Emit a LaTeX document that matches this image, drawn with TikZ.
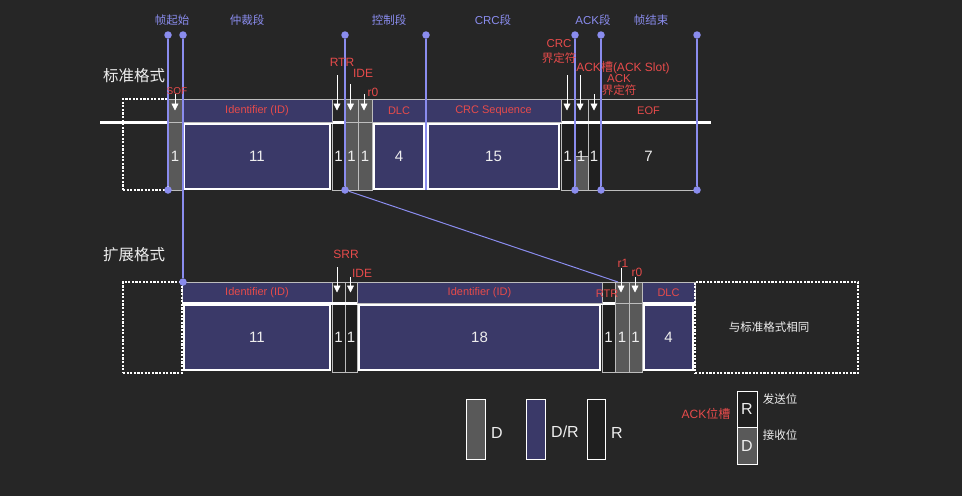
\documentclass[tikz,border=0pt]{standalone}
\usepackage{fontspec}
\setmainfont{Liberation Sans}
\newfontfamily\cjk{Noto Sans CJK SC}
\usetikzlibrary{arrows.meta}

\definecolor{bgdark}{HTML}{262626}
\definecolor{cellR}{HTML}{1F1F1F}
\definecolor{cellD}{HTML}{595959}
\definecolor{cellDR}{HTML}{3A3968}
\definecolor{rim}{HTML}{BDBDBD}
\definecolor{lav}{HTML}{8A8CEE}
\definecolor{labred}{HTML}{E64B4B}
\definecolor{txt}{HTML}{EEEEEE}

\begin{document}
\begin{tikzpicture}[
    x=1pt, y=-1pt,
    >={Triangle[width=7pt,length=7pt]},
    cell/.style={draw=rim, line width=0.7pt, anchor=north west, inner sep=0pt, outer sep=0pt},
    hdr/.style={cell, minimum height=23, text=labred, font=\fontsize{11}{13}\selectfont},
    bdy/.style={cell, minimum height=68, text=txt, font=\fontsize{15}{17}\selectfont},
    bluebody/.style={bdy, fill=cellDR, draw=white, line width=2.5pt, minimum height=65},
    dashbox/.style={draw=white, line width=2.2pt, dash pattern=on 2.2pt off 1.4pt, anchor=north west, inner sep=0pt, outer sep=0pt},
    bus/.style={draw=white, line width=3pt},
    dot/.style={circle, fill=lav, inner sep=0pt, minimum size=7.5pt},
    guide/.style={draw=lav, line width=1.3pt},
    seg/.style={text=lav, inner sep=0pt, font=\fontsize{11.5}{13}\selectfont\cjk},
    lab/.style={text=labred, inner sep=0pt, align=center, font=\fontsize{12}{14}\selectfont},
    ptr/.style={->, draw=white, line width=0.8pt},
    fmt/.style={text=txt, inner sep=0pt, font=\fontsize{15.5}{17}\selectfont\cjk},
    note/.style={text=txt, inner sep=0pt, font=\fontsize{11.5}{13}\selectfont\cjk},
    key/.style={text=txt, inner sep=0pt, font=\fontsize{16}{18}\selectfont}
  ]
    \fill[bgdark] (0,0) rectangle (962,496);
    \useasboundingbox (0,0) rectangle (962,496);

    % standard frame
    \node[hdr, minimum width=13] (srtrh) at (332,99) {};
    \node[bdy, fill=cellR, minimum width=13] (srtrb) at (332,122) {1};
    \node[hdr, minimum width=13] (scdh) at (561,99) {};
    \node[bdy, fill=cellR, minimum width=13] (scdb) at (561,122) {1};
    \node[hdr, minimum width=14] (sackh) at (574,99) {};
    \node[bdy, fill=cellR, minimum width=14, minimum height=34] (sackr) at (574,122) {};
    \node[bdy, fill=cellD, minimum width=14, minimum height=34] (sackd) at (574,156) {};
    \node[hdr, minimum width=12] (sadh) at (588,99) {};
    \node[bdy, fill=cellR, minimum width=12] (sadb) at (588,122) {1};
    \node[hdr, minimum width=97] (seofh) at (600,99) {EOF};
    \node[bdy, minimum width=97] (seofb) at (600,122) {7};

    \coordinate (busl) at (100,122);
    \coordinate (busr) at (711,122);
    \draw[bus] (busl) -- (busr);

    \node[hdr, fill=cellD, minimum width=14] (sofh) at (168,99) {};
    \node[bdy, fill=cellD, minimum width=14] (sofb) at (168,122) {1};
    \node[hdr, fill=cellD, minimum width=13] (sideh) at (345,99) {};
    \node[bdy, fill=cellD, minimum width=13] (sideb) at (345,122) {1};
    \node[hdr, fill=cellD, minimum width=14] (sr0h) at (358,99) {};
    \node[bdy, fill=cellD, minimum width=14] (sr0b) at (358,122) {1};

    \node[hdr, fill=cellDR, minimum width=150] (sidh) at (182,99) {Identifier (ID)};
    \node[bluebody, minimum width=146] (sidb) at (184,124) {11};
    \node[hdr, fill=cellDR, minimum width=54] (sdlch) at (372,99) {DLC};
    \node[bluebody, minimum width=50] (sdlcb) at (374,124) {4};
    \node[hdr, fill=cellDR, minimum width=135] (scrch) at (426,99) {CRC Sequence};
    \node[bluebody, minimum width=131] (scrcb) at (428,124) {15};

    \node[text=txt, inner sep=0pt, font=\fontsize{15}{17}\selectfont] (sackt) at (581,156) {1};
    \node[dashbox, minimum width=45, minimum height=91] (sdash) at (123,99) {};

    % extended frame
    \node[hdr, minimum width=13, minimum height=21] (esrrh) at (332,282) {};
    \node[bdy, fill=cellR, minimum width=13, minimum height=69] (esrrb) at (332,303) {1};
    \node[hdr, minimum width=12, minimum height=21] (eideh) at (345,282) {};
    \node[bdy, fill=cellR, minimum width=12, minimum height=69] (eideb) at (345,303) {1};
    \node[hdr, minimum width=13, minimum height=21] (ertrh) at (602,282) {};
    \node[bdy, fill=cellR, minimum width=13, minimum height=69] (ertrb) at (602,303) {1};

    \node[hdr, fill=cellDR, minimum width=150, minimum height=21] (eidh) at (182,282) {Identifier (ID)};
    \node[hdr, fill=cellDR, minimum width=53, minimum height=21] (edlch) at (642,282) {DLC};
    \draw[bus] (eidh.south west) -- (edlch.south east);

    \node[hdr, fill=cellD, minimum width=14, minimum height=21] (er1h) at (615,282) {};
    \node[bdy, fill=cellD, minimum width=14, minimum height=69] (er1b) at (615,303) {1};
    \node[hdr, fill=cellD, minimum width=13, minimum height=21] (er0h) at (629,282) {};
    \node[bdy, fill=cellD, minimum width=13, minimum height=69] (er0b) at (629,303) {1};

    \node[bluebody, minimum width=146] (eidb) at (184,305) {11};
    \node[hdr, fill=cellDR, minimum width=245, minimum height=21] (exidh) at (357,282) {Identifier (ID)};
    \node[bluebody, minimum width=241] (exidb) at (359,305) {18};
    \node[bluebody, minimum width=49] (edlcb) at (644,305) {4};

    \node[dashbox, minimum width=59, minimum height=91] (edashl) at (123,282) {};
    \node[dashbox, minimum width=163, minimum height=91] (edashr) at (695,282) {};
    \node[note] (esame) at (769,327) {与标准格式相同};

    % segment guides
    \node[dot] (gsof) at (168,35) {};
    \node[dot] (gid) at (183,35) {};
    \node[dot] (gctl) at (345,35) {};
    \node[dot] (gcrc) at (426,35) {};
    \node[dot] (gack) at (575,35) {};
    \node[dot] (gdel) at (601,35) {};
    \node[dot] (geof) at (697,35) {};
    \node[dot] (gsofb) at (168,190) {};
    \node[dot] (gctlb) at (345,190) {};
    \node[dot] (gackb) at (575,190) {};
    \node[dot] (gdelb) at (601,190) {};
    \node[dot] (geofb) at (697,190) {};
    \node[dot] (gidx) at (183,282) {};
    \coordinate (gcrcb) at (426,190);
    \coordinate (gr1) at (618,282);

    \draw[guide] (gsof) -- (gsofb);
    \draw[guide] (gid) -- (gidx);
    \draw[guide] (gctl) -- (gctlb);
    \draw[guide] (gcrc) -- (gcrcb);
    \draw[guide] (gack) -- (gackb);
    \draw[guide] (gdel) -- (gdelb);
    \draw[guide] (geof) -- (geofb);
    \draw[guide, line width=1pt] (gctlb) -- (gr1);

    \node[seg] (tsof) at (172,20) {帧起始};
    \node[seg] (tarb) at (247,20) {仲裁段};
    \node[seg] (tctl) at (389,20) {控制段};
    \node[seg] (tcrc) at (493,20) {{\rmfamily CRC}段};
    \node[seg] (tack) at (593,20) {{\rmfamily ACK}段};
    \node[seg] (teof) at (651,20) {帧结束};

    \node[fmt] (fstd) at (134,76) {标准格式};
    \node[fmt] (fext) at (134,255) {扩展格式};

    % field labels
    \node[lab, font=\fontsize{10}{12}\selectfont] (lsof) at (177,91) {SOF};
    \node[lab] (lrtr) at (342,62) {RTR};
    \node[lab] (lide) at (363,73) {IDE};
    \node[lab] (lr0) at (373,92) {r0};
    \node[lab, font=\fontsize{11.5}{15}\selectfont] (lcd) at (559,51) {CRC\\{\cjk 界定符}};
    \node[lab] (lack) at (623,68) {ACK{\cjk 槽}(ACK Slot)};
    \node[lab, font=\fontsize{11.5}{11.5}\selectfont] (lad) at (619,85) {ACK\\{\cjk 界定符}};
    \node[lab] (lsrr) at (346,254) {SRR};
    \node[lab] (leide) at (362,273) {IDE};
    \node[lab] (lr1) at (623,263) {r1};
    \node[lab] (ler0) at (637,272) {r0};
    \node[lab, font=\fontsize{11}{13}\selectfont] (lertr) at (607,294) {RTR};

    \coordinate (asof) at (175,94);
    \coordinate (artr) at (337,75);
    \coordinate (aide) at (350.5,84);
    \coordinate (ar0) at (364,94);
    \coordinate (acd) at (567,75);
    \coordinate (aack) at (580,75);
    \coordinate (aad) at (594,94);
    \coordinate (asrr) at (337,267);
    \coordinate (aeide) at (350.5,277);
    \coordinate (ar1) at (621,268);
    \coordinate (aer0) at (635,277);

    \draw[ptr] (asof) -- (asof |- sofh.center);
    \draw[ptr] (artr) -- (artr |- srtrh.center);
    \draw[ptr] (aide) -- (aide |- sideh.center);
    \draw[ptr] (ar0) -- (ar0 |- sr0h.center);
    \draw[ptr] (acd) -- (acd |- scdh.center);
    \draw[ptr] (aack) -- (aack |- sackh.center);
    \draw[ptr] (aad) -- (aad |- sadh.center);
    \draw[ptr] (asrr) -- (asrr |- esrrh.center);
    \draw[ptr] (aeide) -- (aeide |- eideh.center);
    \draw[ptr] (ar1) -- (ar1 |- er1h.center);
    \draw[ptr] (aer0) -- (aer0 |- er0h.center);

    % legend
    \node[cell, draw=white, line width=1pt, fill=cellD, minimum width=19, minimum height=60] (kd) at (466,399) {};
    \node[key] (kdt) at (497,433) {D};
    \node[cell, draw=white, line width=1pt, fill=cellDR, minimum width=19, minimum height=60] (kdr) at (526,399) {};
    \node[key] (kdrt) at (565,432) {D/R};
    \node[cell, draw=white, line width=1pt, fill=cellR, minimum width=18, minimum height=60] (kr) at (587,399) {};
    \node[key] (krt) at (617,433) {R};
    \node[lab] (kack) at (706,414) {ACK{\cjk 位槽}};
    \node[key, cell, draw=white, line width=1pt, fill=cellR, minimum width=20, minimum height=36] (kslr) at (737,391) {R};
    \node[key, cell, draw=white, line width=1pt, fill=cellD, minimum width=20, minimum height=37] (ksld) at (737,427) {D};
    \node[note] (ksend) at (780,399) {发送位};
    \node[note] (krecv) at (780,435) {接收位};
  \end{tikzpicture}
\end{document}
